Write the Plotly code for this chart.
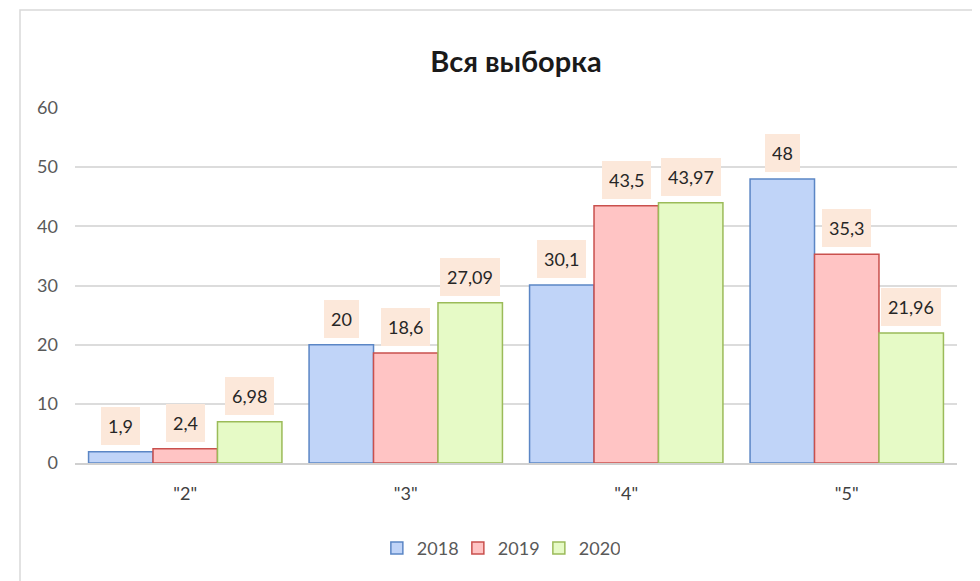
import plotly.graph_objects as go

categories = ['"2"', '"3"', '"4"', '"5"']
years = ["2018", "2019", "2020"]
values_2018 = [1.9, 20, 30.1, 48]
values_2019 = [2.4, 18.6, 43.5, 35.3]
values_2020 = [6.98, 27.09, 43.97, 21.96]
labels_2018 = ["1,9", "20", "30,1", "48"]
labels_2019 = ["2,4", "18,6", "43,5", "35,3"]
labels_2020 = ["6,98", "27,09", "43,97", "21,96"]
y_ticks = [0, 10, 20, 30, 40, 50, 60]

series = [values_2018, values_2019, values_2020]
labels = [labels_2018, labels_2019, labels_2020]
fills = ["#c0d4f8", "#ffc4c4", "#e6fac6"]
lines = ["#5b86c5", "#c9504d", "#9bbb59"]

FONT = "Lato, 'Noto Sans', sans-serif"
bargap = 0.123
bar_w = (1 - bargap) / 3

# page body has an 8px default margin; figure sized to fit the window
W, H = 972, 573
L, R, T, B = 67, 23, 100, 118
PW = W - L - R
PH = H - T - B

xpos = list(range(len(categories)))
fig = go.Figure()
for j, (yr, vals) in enumerate(zip(years, series)):
    fig.add_trace(go.Bar(
        x=xpos, y=vals, name=yr,
        marker=dict(color=fills[j], line=dict(color=lines[j], width=1.5)),
    ))

annotations = []
for j, (vals, labs) in enumerate(zip(series, labels)):
    for i, (v, t) in enumerate(zip(vals, labs)):
        annotations.append(dict(
            x=i + (j - 1) * bar_w, y=v, xref="x", yref="y",
            text=t, showarrow=False, yanchor="bottom", yshift=7,
            bgcolor="#fce8da", borderpad=7, borderwidth=0, height=24,
            font=dict(family=FONT, size=18, color="#262626"),
        ))

fig.update_layout(
    width=W, height=H,
    margin=dict(l=L, r=R, t=T, b=B),
    paper_bgcolor="white", plot_bgcolor="white",
    barmode="group", bargap=bargap, bargroupgap=0,
    title=dict(text="<b>Вся выборка</b>", x=0.5, xref="paper", xanchor="center",
               y=1 - 54 / H, yref="container", yanchor="middle",
               font=dict(family=FONT, size=29, color="#1a1a1a")),
    xaxis=dict(tickmode="array", tickvals=xpos, ticktext=categories,
               range=[-0.5, len(categories) - 0.5],
               showgrid=False, zeroline=False, showline=True,
               linecolor="#d0d0d0", linewidth=1.5, ticks="",
               ticklabelstandoff=14,
               tickfont=dict(family=FONT, size=18, color="#404040")),
    yaxis=dict(range=[0, 60], tickvals=y_ticks, showgrid=True,
               gridcolor="#dcdcdc", gridwidth=1.5, zeroline=False,
               showline=False, ticks="", ticklabelstandoff=16,
               tickfont=dict(family=FONT, size=18, color="#595959")),
    legend=dict(orientation="h", x=0.480, xanchor="center", y=-0.24,
                yanchor="middle", font=dict(family=FONT, size=18, color="#595959"),
                itemwidth=30, entrywidth=36, entrywidthmode="pixels",
                tracegroupgap=0),
    annotations=annotations,
    shapes=[dict(type="rect", xref="paper", yref="paper",
                 x0=(20 - 75) / PW, x1=(979 - 75) / PW,
                 y0=(463 - 600) / PH, y1=(463 - 10) / PH,
                 line=dict(color="#d9d9d9", width=1.5), layer="below")],
    showlegend=True,
)

fig.write_html("out.html")
